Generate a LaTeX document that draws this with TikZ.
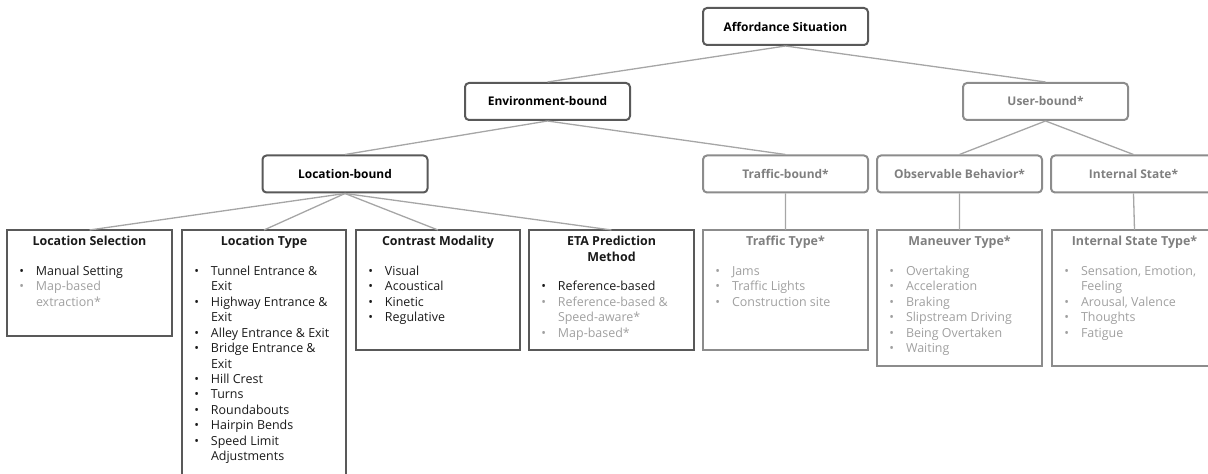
\documentclass[tikz,border=0pt]{standalone}
\usepackage{fontspec}
\setmainfont{Open Sans}
\definecolor{darkb}{HTML}{595959}
\definecolor{grayb}{HTML}{8C8C8C}
\definecolor{grayt}{HTML}{7F7F7F}
\definecolor{grayl}{HTML}{A0A0A0}
\definecolor{linec}{HTML}{A6A6A6}
\definecolor{txt}{HTML}{1A1A1A}
\newcommand\bit[1]{\par\noindent\llap{\textbullet\hspace{12bp}}#1}
\newcommand\gbit[1]{\par\noindent{\color{grayl}\llap{\textbullet\hspace{12bp}}#1}}
\newcommand\boxtext[4]{\parbox[t][#1bp][t]{#2bp}{\fontsize{12.5}{15.5}\selectfont\color{txt}\centering\rule{0pt}{16bp}\textbf{#3}\par\vspace{14bp}\raggedright\leftskip=29bp\rightskip=0pt plus 3em\parfillskip=0pt plus 1fil #4\par}}
\newcommand\gboxtext[4]{\parbox[t][#1bp][t]{#2bp}{\fontsize{12.5}{15.5}\selectfont\color{grayt}\centering\rule{0pt}{16bp}\textbf{#3}\par\vspace{14bp}\raggedright\leftskip=29bp\rightskip=0pt plus 3em\parfillskip=0pt plus 1fil #4\par}}
\tikzset{
  topbox/.style={draw=darkb, line width=2bp, rounded corners=4bp, minimum width=165bp, minimum height=37bp, inner sep=0pt, font=\bfseries\fontsize{12}{14}\selectfont, text=black},
  topgray/.style={topbox, draw=grayb, text=grayt},
  botbox/.style={draw=darkb, line width=2.5bp, inner sep=0pt, outer sep=0pt, anchor=north west},
  botgray/.style={botbox, draw=grayb},
  conn/.style={draw=linec, line width=1.3bp},
}
\begin{document}
\begin{tikzpicture}[x=1bp,y=-1bp]
\useasboundingbox (0,0) rectangle (1208,474);
% top levels
\node[topbox]  (aff)  at (785.5,26.5) {Affordance Situation};
\node[topbox]  (env)  at (547.5,101.5) {Environment-bound};
\node[topgray] (user) at (1045.5,101.5) {User-bound*};
\node[topbox]  (loc)  at (345,174) {Location-bound};
\node[topgray] (traf) at (785.5,174) {Traffic-bound*};
\node[topgray] (obs)  at (959.5,174) {Observable Behavior*};
\node[topgray] (int)  at (1133.5,174) {Internal State*};
% bottom boxes
\node[botbox] (lsel) at (7,230) {\boxtext{106}{165}{Location Selection}{\bit{Manual Setting}\gbit{Map-based\\extraction*}}};
\node[botbox] (ltyp) at (182,230) {\boxtext{265}{164}{Location Type}{\bit{Tunnel Entrance \&\\Exit}\bit{Highway Entrance \&\\Exit}\bit{Alley Entrance \& Exit}\bit{Bridge Entrance \&\\Exit}\bit{Hill Crest}\bit{Turns}\bit{Roundabouts}\bit{Hairpin Bends}\bit{Speed Limit\\Adjustments}}};
\node[botbox] (cmod) at (356,230) {\boxtext{120}{164}{Contrast Modality}{\bit{Visual}\bit{Acoustical}\bit{Kinetic}\bit{Regulative}}};
\node[botbox] (eta) at (529,230) {\boxtext{120}{165}{ETA Prediction\\Method}{\bit{Reference-based}\gbit{Reference-based \&\\Speed-aware*}\gbit{Map-based*}}};
\node[botgray] (ttyp) at (703,230) {\gboxtext{120}{165}{Traffic Type*}{\gbit{Jams}\gbit{Traffic Lights}\gbit{Construction site}}};
\node[botgray] (mtyp) at (877,230) {\gboxtext{136}{165}{Maneuver Type*}{\gbit{Overtaking}\gbit{Acceleration}\gbit{Braking}\gbit{Slipstream Driving}\gbit{Being Overtaken}\gbit{Waiting}}};
\node[botgray] (ityp) at (1052,230) {\gboxtext{136}{165}{Internal State Type*}{\gbit{Sensation, Emotion,\\Feeling}\gbit{Arousal, Valence}\gbit{Thoughts}\gbit{Fatigue}}};
% connectors
\draw[conn] (aff.south) -- (env.north);
\draw[conn] (aff.south) -- (user.north);
\draw[conn] (env.south) -- (loc.north);
\draw[conn] (env.south) -- (traf.north);
\draw[conn] (user.south) -- (obs.north);
\draw[conn] (user.south) -- (int.north);
\draw[conn] (loc.south) -- (lsel.north);
\draw[conn] (loc.south) -- (ltyp.north);
\draw[conn] (loc.south) -- (cmod.north);
\draw[conn] (loc.south) -- (eta.north);
\draw[conn] (traf.south) -- (ttyp.north);
\draw[conn] (obs.south) -- (mtyp.north);
\draw[conn] (int.south) -- (ityp.north);
\end{tikzpicture}
\end{document}
